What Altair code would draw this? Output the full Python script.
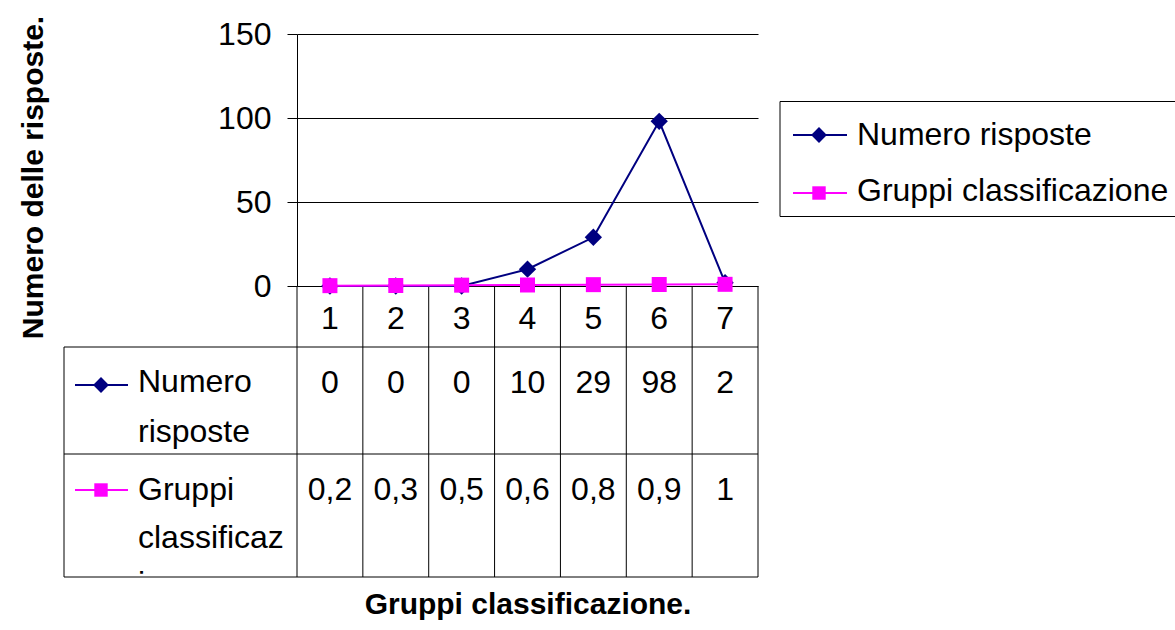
import altair as alt
import pandas as pd

# ---- chart values ----
categories = [1, 2, 3, 4, 5, 6, 7]
numero_risposte = [0, 0, 0, 10, 29, 98, 2]
gruppi_classificazione = [0.2, 0.3, 0.5, 0.6, 0.8, 0.9, 1]
series_names = ["Numero risposte", "Gruppi classificazione"]
y_ticks = [0, 50, 100, 150]

# ---- styling / layout ----
NAVY = "#000080"
MAGENTA = "#FF00FF"
FONT = "Liberation Sans"
W, H = 461, 252          # plot area
LEFT, TOP = 297, 34      # plot origin on the page
STEP = W / len(categories)


def fmt(v):
    """Italian style number: decimal comma."""
    return f"{v:g}".replace(".", ",")


data = pd.DataFrame({
    "gruppo": categories * 2,
    "serie": [series_names[0]] * len(categories) + [series_names[1]] * len(categories),
    "valore": numero_risposte + gruppi_classificazione,
})
data["etichetta"] = [fmt(v) for v in data["valore"]]

x_enc = alt.X(
    "gruppo:O",
    scale=alt.Scale(type="point", padding=0.5),
    axis=alt.Axis(
        labels=False, ticks=False, domain=False, grid=False,
        title="Gruppi classificazione.",
        titleFont=FONT, titleFontSize=30, titleFontWeight="bold", titleColor="black",
        titleX=W / 2, titleY=327, titleBaseline="alphabetic", titleAlign="center",
    ),
)
y_enc = alt.Y(
    "valore:Q",
    scale=alt.Scale(domain=[0, 150], nice=False),
    axis=alt.Axis(
        values=y_ticks, grid=True, gridColor="black", gridWidth=1,
        domainColor="black", domainWidth=1,
        tickColor="black", tickSize=10, tickWidth=1,
        labelFont=FONT, labelFontSize=32, labelColor="black", labelPadding=16,
        title="Numero delle risposte.",
        titleFont=FONT, titleFontSize=30, titleFontWeight="bold", titleColor="black",
        titleAngle=270, titleX=-255, titleY=143,
        titleBaseline="alphabetic", titleAlign="center",
    ),
)

base = alt.Chart(data)

# ---- series lines and markers ----
series_layers = []
for name, color, shape, size in [
    (series_names[0], NAVY, "diamond", 300),
    (series_names[1], MAGENTA, "square", 225),
]:
    sel = base.transform_filter(alt.datum.serie == name)
    series_layers.append(
        sel.mark_line(color=color, strokeWidth=2).encode(x=x_enc, y=y_enc)
    )
    series_layers.append(
        sel.mark_point(shape=shape, filled=True, color=color, size=size, opacity=1)
        .encode(x=x_enc, y=y_enc)
    )

# ---- data table under the plot ----
txt = dict(font=FONT, fontSize=32, color="black", baseline="alphabetic")
cat_row = base.transform_filter(alt.datum.serie == series_names[0]).mark_text(**txt).encode(
    x=x_enc, y=alt.value(295), text="gruppo:N"
)
row1 = base.transform_filter(alt.datum.serie == series_names[0]).mark_text(**txt).encode(
    x=x_enc, y=alt.value(359), text="etichetta:N"
)
row2 = base.transform_filter(alt.datum.serie == series_names[1]).mark_text(**txt).encode(
    x=x_enc, y=alt.value(466), text="etichetta:N"
)

# left-aligned labels: table row headers and legend entries (pixel positions)
labels = pd.DataFrame({
    "px": [-159, -159, -159, -159, -159, 560, 560],
    "py": [358, 408, 466, 514, 560, 111, 167],
    "t": ["Numero", "risposte", "Gruppi", "classificaz", "ione",
          series_names[0], series_names[1]],
})
label_layer = alt.Chart(labels).mark_text(align="left", **txt).encode(
    x=alt.X("px:Q", scale=None), y=alt.Y("py:Q", scale=None), text="t:N"
)

# white cover that clips the overflowing header text at the cell bottom
cover = alt.Chart(pd.DataFrame({"x": [-231], "x2": [-1], "y": [540], "y2": [600]})).mark_rect(
    color="white"
).encode(x=alt.X("x:Q", scale=None), x2="x2:Q", y=alt.Y("y:Q", scale=None), y2="y2:Q")

# table grid + small series keys
rows = []
r1, r2, r3 = 313, 420, 543
for yy in (r1, r2, r3):
    rows.append((-233, W, yy, yy, "black", 1))
rows.append((-233, -233, r1, r3, "black", 1))
for i in range(len(categories) + 1):
    xx = i * STEP
    rows.append((xx, xx, H, r3, "black", 1))
# series keys in the table header cells and in the legend
rows.append((-222, -169, 351, 351, NAVY, 2))
rows.append((-222, -169, 456, 456, MAGENTA, 2))
rows.append((496, 550, 101, 101, NAVY, 2))
rows.append((496, 550, 159, 159, MAGENTA, 2))
rules = pd.DataFrame(rows, columns=["x", "x2", "y", "y2", "c", "w"])
rule_layer = alt.Chart(rules).mark_rule().encode(
    x=alt.X("x:Q", scale=None), x2="x2:Q",
    y=alt.Y("y:Q", scale=None), y2="y2:Q",
    color=alt.Color("c:N", scale=None),
    strokeWidth=alt.StrokeWidth("w:Q", scale=None),
)

keys = pd.DataFrame({
    "px": [-196, -196, 522, 522],
    "py": [351, 456, 101, 159],
    "shape": ["diamond", "square", "diamond", "square"],
    "c": [NAVY, MAGENTA, NAVY, MAGENTA],
    "s": [250, 180, 250, 180],
})
key_layer = alt.Chart(keys).mark_point(filled=True, opacity=1).encode(
    x=alt.X("px:Q", scale=None), y=alt.Y("py:Q", scale=None),
    shape=alt.Shape("shape:N", scale=None),
    color=alt.Color("c:N", scale=None),
    size=alt.Size("s:Q", scale=None),
)

# legend frame
legend_box = alt.Chart(pd.DataFrame({"x": [483], "x2": [900], "y": [67.5], "y2": [182.5]})).mark_rect(
    fill="white", stroke="black", strokeWidth=1
).encode(x=alt.X("x:Q", scale=None), x2="x2:Q", y=alt.Y("y:Q", scale=None), y2="y2:Q")

chart = alt.layer(
    legend_box,
    label_layer,
    cover,
    rule_layer,
    *series_layers,
    key_layer,
    cat_row,
    row1,
    row2,
).properties(
    width=W,
    height=H,
    autosize=alt.AutoSizeParams(type="none"),
    padding={"left": LEFT, "top": TOP, "right": 1175 - LEFT - W, "bottom": 630 - TOP - H},
    background="white",
).configure_view(stroke=None)

chart.save("out.html", embed_options={"renderer": "svg", "actions": False})
